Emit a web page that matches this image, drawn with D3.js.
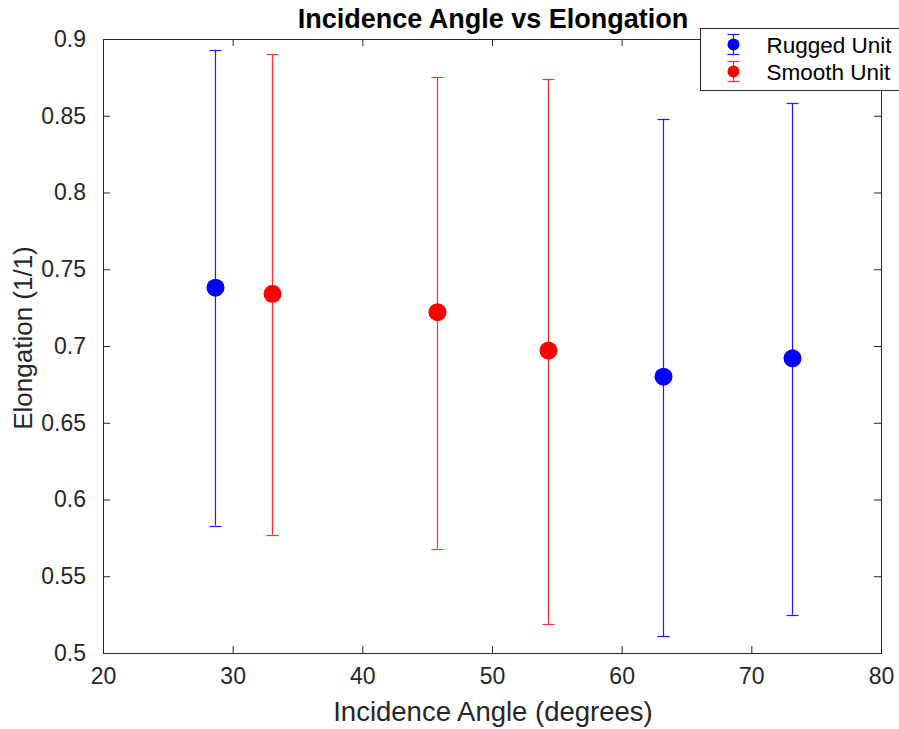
<!DOCTYPE html>
<html>
<head>
  <title>Incidence Angle vs Elongation</title>
  <script src="https://d3js.org/d3.v7.min.js"></script>
  <style type="text/css">
    body { margin: 0; background: #fff; }
    svg { font-family: "Liberation Sans", Arial, sans-serif; }
  </style>
</head>
<body>
  <div id="chart"></div>
  <script type="text/javascript">
    // data
    var ruggedAngle = [28.6, 63.2, 73.1];
    var ruggedElong = [0.738, 0.680, 0.692];
    var ruggedLow = [0.583, 0.511, 0.525];
    var ruggedHigh = [0.893, 0.848, 0.858];

    var smoothAngle = [33.0, 45.75, 54.3];
    var smoothElong = [0.734, 0.722, 0.697];
    var smoothLow = [0.577, 0.568, 0.519];
    var smoothHigh = [0.890, 0.875, 0.874];

    var xTicks = [20, 30, 40, 50, 60, 70, 80];
    var yTicks = [0.5, 0.55, 0.6, 0.65, 0.7, 0.75, 0.8, 0.85, 0.9];
    var legendLabels = ["Rugged Unit", "Smooth Unit"];

    var W = 899, H = 729;
    var margin = { top: 39, right: 18, bottom: 76, left: 103 };
    var width = W - margin.left - margin.right,
      height = H - margin.top - margin.bottom;

    var svg = d3.select("#chart").append("svg")
      .attr("width", W)
      .attr("height", H);

    var g = svg.append("g")
      .attr("transform", "translate(" + margin.left + "," + margin.top + ")");

    var x = d3.scaleLinear().domain([20, 80]).range([0, width]);
    var y = d3.scaleLinear().domain([0.5, 0.9]).range([height, 0]);

    var tickFmt = function (d) { return d3.format("")(+d.toFixed(2)); };

    // axes with inward ticks (box style)
    var axB = g.append("g").attr("transform", "translate(0," + height + ")")
      .call(d3.axisBottom(x).tickValues(xTicks).tickSize(-7).tickPadding(15).tickFormat(tickFmt));
    var axL = g.append("g")
      .call(d3.axisLeft(y).tickValues(yTicks).tickSize(-7).tickPadding(17).tickFormat(tickFmt));
    var axT = g.append("g")
      .call(d3.axisTop(x).tickValues(xTicks).tickSize(-7).tickFormat(""));
    var axR = g.append("g").attr("transform", "translate(" + width + ",0)")
      .call(d3.axisRight(y).tickValues(yTicks).tickSize(-7).tickFormat(""));

    [axB, axL, axT, axR].forEach(function (a) {
      a.select(".domain").attr("stroke", "#262626").attr("stroke-width", 1);
      a.selectAll(".tick line").attr("stroke", "#262626");
      a.selectAll(".tick text").attr("fill", "#262626").style("font-size", "23px");
    });

    // axis labels
    svg.append("text")
      .attr("x", margin.left + width / 2 + 1)
      .attr("y", 721)
      .attr("text-anchor", "middle")
      .attr("fill", "#262626")
      .style("font-size", "27.5px")
      .text("Incidence Angle (degrees)");

    svg.append("text")
      .attr("transform", "translate(32," + (margin.top + height / 2 - 8) + ") rotate(-90)")
      .attr("text-anchor", "middle")
      .attr("fill", "#262626")
      .style("font-size", "26px")
      .text("Elongation (1/1)");

    svg.append("text")
      .attr("x", margin.left + width / 2 + 1)
      .attr("y", 28)
      .attr("text-anchor", "middle")
      .attr("fill", "#000")
      .style("font-size", "27px")
      .style("font-weight", "bold")
      .text("Incidence Angle vs Elongation");

    function px(v) { return Math.round(v) + 0.5; }

    function drawSeries(angle, elong, low, high, color, lineColor) {
      var rows = angle.map(function (a, i) {
        return { a: a, e: elong[i], lo: low[i], hi: high[i] };
      });
      var s = g.append("g")
        .attr("stroke", lineColor)
        .attr("stroke-width", 1.2);
      s.selectAll(".eb").data(rows).enter().append("line")
        .attr("x1", function (d) { return px(x(d.a)); })
        .attr("x2", function (d) { return px(x(d.a)); })
        .attr("y1", function (d) { return y(d.lo); })
        .attr("y2", function (d) { return y(d.hi); });
      s.selectAll(".capLo").data(rows).enter().append("line")
        .attr("x1", function (d) { return px(x(d.a)) - 6; })
        .attr("x2", function (d) { return px(x(d.a)) + 6; })
        .attr("y1", function (d) { return px(y(d.lo)); })
        .attr("y2", function (d) { return px(y(d.lo)); });
      s.selectAll(".capHi").data(rows).enter().append("line")
        .attr("x1", function (d) { return px(x(d.a)) - 6; })
        .attr("x2", function (d) { return px(x(d.a)) + 6; })
        .attr("y1", function (d) { return px(y(d.hi)); })
        .attr("y2", function (d) { return px(y(d.hi)); });
      s.selectAll("circle").data(rows).enter().append("circle")
        .attr("cx", function (d) { return px(x(d.a)); })
        .attr("cy", function (d) { return y(d.e); })
        .attr("r", 9)
        .attr("stroke", "none")
        .attr("fill", color);
    }

    drawSeries(ruggedAngle, ruggedElong, ruggedLow, ruggedHigh, "#0000ff", "#1a1aff");
    drawSeries(smoothAngle, smoothElong, smoothLow, smoothHigh, "#ff0000", "#ee3333");

    // legend
    var leg = svg.append("g").attr("transform", "translate(700.5,28.5)");
    leg.append("rect")
      .attr("width", 199).attr("height", 62)
      .attr("fill", "#fff").attr("stroke", "#262626").attr("stroke-width", 1);
    var legColors = [["#0000ff", "#1a1aff"], ["#ff0000", "#ee3333"]];
    legendLabels.forEach(function (lbl, i) {
      var cy = 16 + i * 27, cx = 33;
      var row = leg.append("g").attr("stroke", legColors[i][1]).attr("stroke-width", 1.2);
      row.append("line").attr("x1", cx).attr("x2", cx).attr("y1", cy - 10).attr("y2", cy + 10);
      row.append("line").attr("x1", cx - 6).attr("x2", cx + 6).attr("y1", cy - 10).attr("y2", cy - 10);
      row.append("line").attr("x1", cx - 6).attr("x2", cx + 6).attr("y1", cy + 10).attr("y2", cy + 10);
      row.append("circle").attr("cx", cx).attr("cy", cy).attr("r", 6)
        .attr("stroke", "none").attr("fill", legColors[i][0]);
      leg.append("text").attr("x", 66).attr("y", cy + 8)
        .attr("fill", "#000").style("font-size", "22.5px").text(lbl);
    });
  </script>
</body>
</html>
